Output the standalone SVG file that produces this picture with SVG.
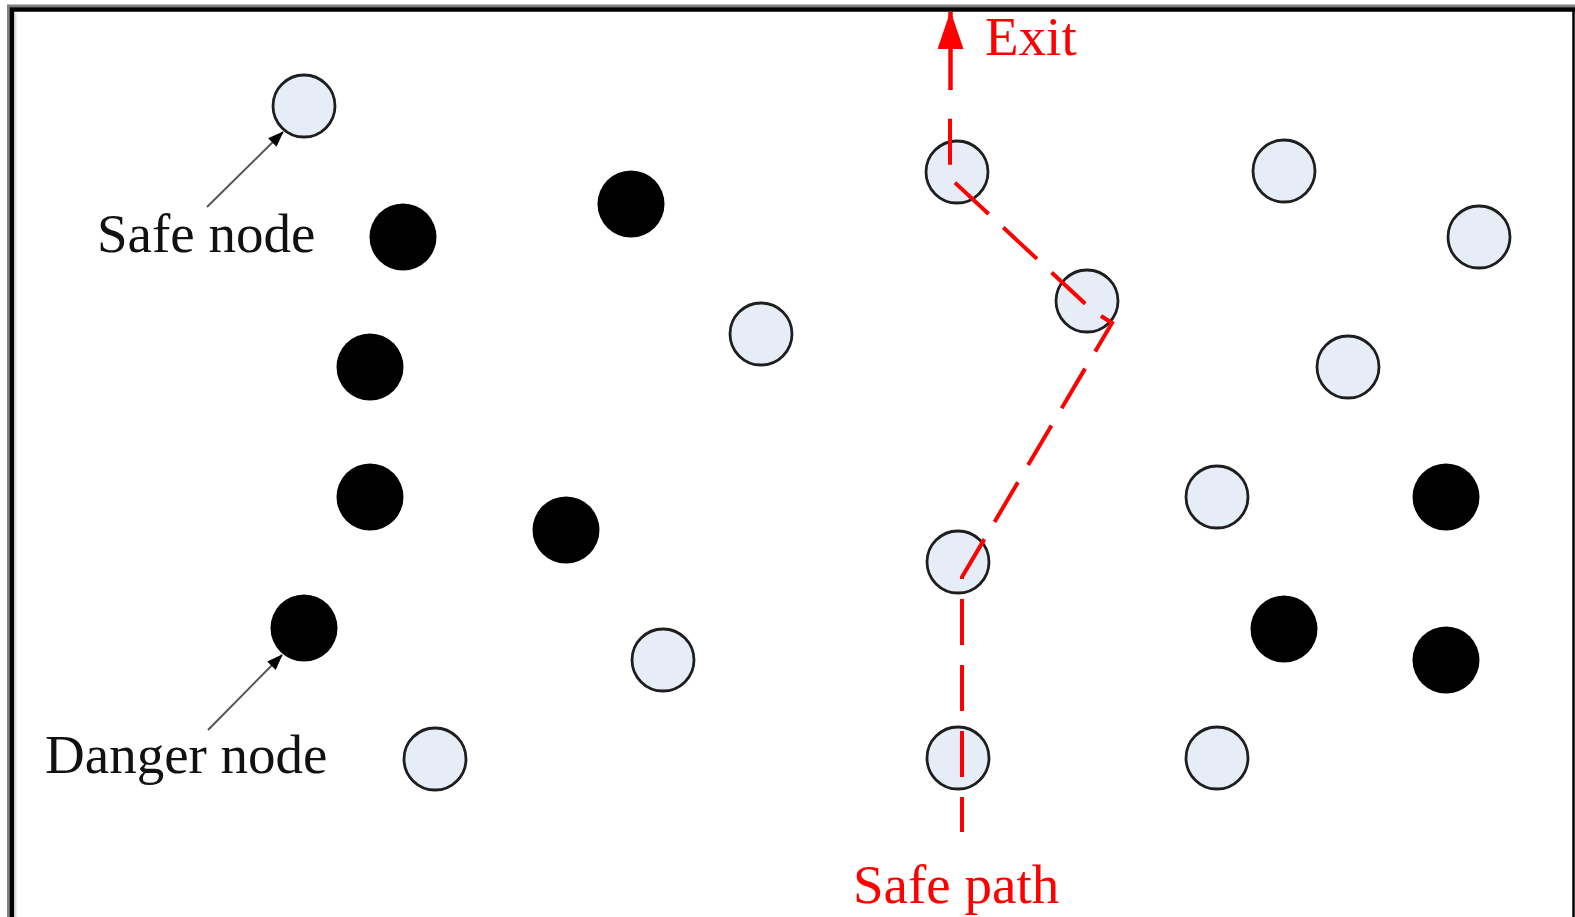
<svg xmlns="http://www.w3.org/2000/svg" width="1575" height="917" viewBox="0 0 1575 917">
  <defs>
    <style>
      .safe { fill: #e7edf7; stroke: #1e1e1e; stroke-width: 2.8; }
      .danger { fill: #000000; }
      .leader { stroke: #555555; stroke-width: 2; fill: none; }
      .path { stroke: #ff0000; stroke-width: 4; fill: none; stroke-dasharray: 46 20; stroke-dashoffset: 11; }
    </style>
    <marker id="leadHead" markerWidth="16" markerHeight="12" refX="15" refY="6" orient="auto" markerUnits="userSpaceOnUse" viewBox="0 0 16 12">
      <path d="M0,0 L16,6 L0,12 z" fill="#000000"/>
    </marker>
    <marker id="exitHead" markerWidth="38" markerHeight="26" refX="37" refY="13" orient="auto" markerUnits="userSpaceOnUse" viewBox="0 0 38 26">
      <path d="M0,0 L38,13 L0,26 z" fill="#ff0000"/>
    </marker>
  </defs>

  <rect x="0" y="0" width="1575" height="917" fill="#ffffff"/>

  <!-- frame: open at the bottom -->
  <g id="frame" fill="none">
    <polyline points="8.5,917 8.5,6 1575,6" stroke="#808080" stroke-width="3"/>
    <polyline points="12,917 12,9.5 1575,9.5" stroke="#000000" stroke-width="4.5"/>
    <line x1="15.5" y1="13" x2="15.5" y2="917" stroke="#dddddd" stroke-width="2"/>
    <line x1="1573.5" y1="9" x2="1573.5" y2="917" stroke="#000000" stroke-width="2.5"/>
  </g>

  <!-- safe nodes -->
  <g id="safe-nodes">
    <g id="s1"><circle class="safe" cx="304" cy="106" r="31"/></g>
    <g id="s2"><circle class="safe" cx="957" cy="172" r="31"/></g>
    <g id="s3"><circle class="safe" cx="1087" cy="301" r="31"/></g>
    <g id="s4"><circle class="safe" cx="1284" cy="171" r="31"/></g>
    <g id="s5"><circle class="safe" cx="1479" cy="237" r="31"/></g>
    <g id="s6"><circle class="safe" cx="761" cy="334" r="31"/></g>
    <g id="s7"><circle class="safe" cx="1348" cy="367" r="31"/></g>
    <g id="s8"><circle class="safe" cx="1217" cy="497" r="31"/></g>
    <g id="s9"><circle class="safe" cx="958" cy="562" r="31"/></g>
    <g id="s10"><circle class="safe" cx="663" cy="660" r="31"/></g>
    <g id="s11"><circle class="safe" cx="435" cy="759" r="31"/></g>
    <g id="s12"><circle class="safe" cx="958" cy="758" r="31"/></g>
    <g id="s13"><circle class="safe" cx="1217" cy="758" r="31"/></g>
  </g>

  <!-- danger nodes -->
  <g id="danger-nodes">
    <g id="d1"><circle class="danger" cx="403" cy="237" r="33.5"/></g>
    <g id="d2"><circle class="danger" cx="631" cy="204" r="33.5"/></g>
    <g id="d3"><circle class="danger" cx="370" cy="367" r="33.5"/></g>
    <g id="d4"><circle class="danger" cx="370" cy="497" r="33.5"/></g>
    <g id="d5"><circle class="danger" cx="566" cy="530" r="33.5"/></g>
    <g id="d6"><circle class="danger" cx="304" cy="628" r="33.5"/></g>
    <g id="d7"><circle class="danger" cx="1446" cy="497" r="33.5"/></g>
    <g id="d8"><circle class="danger" cx="1284" cy="629" r="33.5"/></g>
    <g id="d9"><circle class="danger" cx="1446" cy="660" r="33.5"/></g>
  </g>

  <!-- connectors -->
  <g id="connectors">
    <line class="leader" x1="207" y1="207" x2="283" y2="132" marker-end="url(#leadHead)"/>
    <line class="leader" x1="208" y1="730" x2="282" y2="655" marker-end="url(#leadHead)"/>
    <polyline class="path" points="962,832 962,577 1112,323 1093,311 950,178 950,113"/>
    <line x1="950.5" y1="90" x2="950.5" y2="12" stroke="#ff0000" stroke-width="4.5" marker-end="url(#exitHead)"/>
  </g>

  <!-- labels -->
  <g id="labels" font-family="'Liberation Serif', 'DejaVu Serif', serif" font-size="55">
    <text x="97" y="252" fill="#111111">Safe node</text>
    <text x="45" y="773" fill="#111111">Danger node</text>
    <text x="985" y="55" fill="#ff0000">Exit</text>
    <text x="853" y="903" fill="#ff0000">Safe path</text>
  </g>
</svg>
